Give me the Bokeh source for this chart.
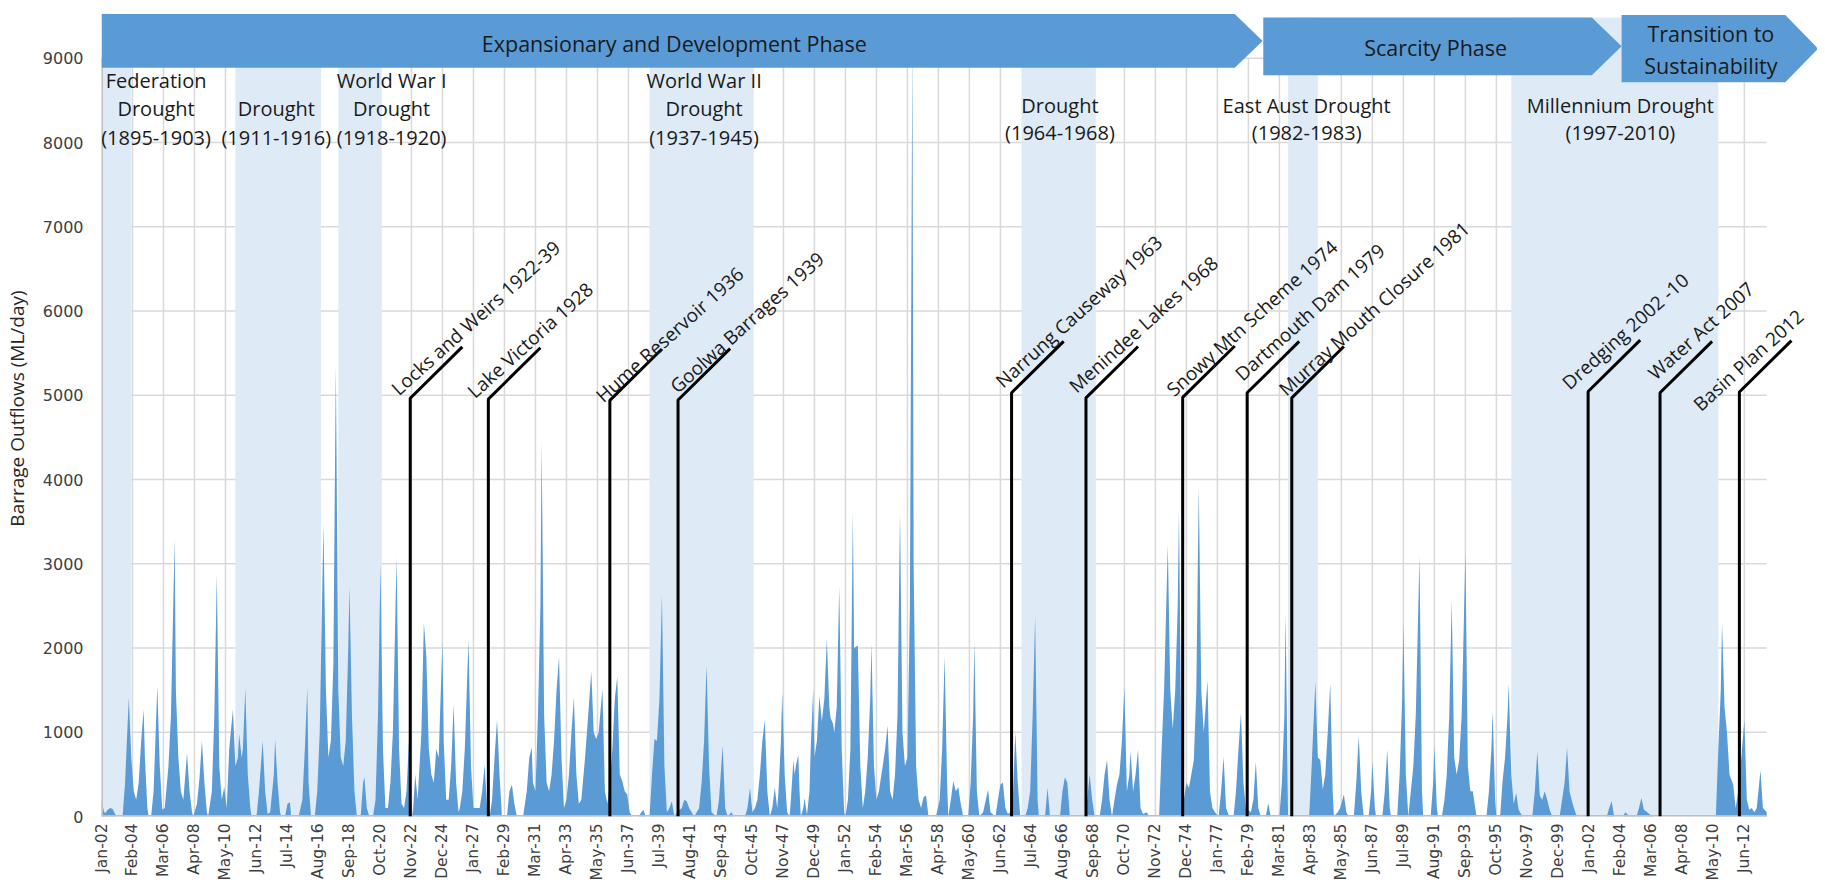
import math
from bokeh.plotting import figure
from bokeh.models import FixedTicker, Range1d, Label, PolyAnnotation, ColumnDataSource
from bokeh.embed import file_html
from bokeh.resources import INLINE

# ---------------- data (month index counted from Jan 1902) ----------------
tick_labels = ["Jan-02", "Feb-04", "Mar-06", "Apr-08", "May-10", "Jun-12", "Jul-14", "Aug-16",
               "Sep-18", "Oct-20", "Nov-22", "Dec-24", "Jan-27", "Feb-29", "Mar-31", "Apr-33",
               "May-35", "Jun-37", "Jul-39", "Aug-41", "Sep-43", "Oct-45", "Nov-47", "Dec-49",
               "Jan-52", "Feb-54", "Mar-56", "Apr-58", "May-60", "Jun-62", "Jul-64", "Aug-66",
               "Sep-68", "Oct-70", "Nov-72", "Dec-74", "Jan-77", "Feb-79", "Mar-81", "Apr-83",
               "May-85", "Jun-87", "Jul-89", "Aug-91", "Sep-93", "Oct-95", "Nov-97", "Dec-99",
               "Jan-02", "Feb-04", "Mar-06", "Apr-08", "May-10", "Jun-12"]
tick_step = 25
n_months = 1344
y_ticks = [0, 1000, 2000, 3000, 4000, 5000, 6000, 7000, 8000, 9000]

flow_month = [
    0, 2, 3, 5, 7, 9, 10, 12, 16, 17, 19, 22, 24, 26, 28, 30, 32, 34, 35, 37, 38, 40, 42, 45, 47, 49,
    51, 54, 56, 59, 60, 62, 64, 66, 69, 71, 73, 74, 77, 79, 81, 83, 85, 86, 89, 91, 93, 95, 97, 99,
    101, 103, 106, 108, 110, 111, 113, 114, 116, 118, 120, 121, 125, 127, 130, 132, 134, 136, 139, 140,
    142, 144, 145, 148, 150, 152, 153, 159, 162, 164, 166, 167, 169, 172, 174, 176, 179, 181, 183, 185,
    187, 189, 191, 193, 195, 197, 199, 200, 202, 204, 206, 209, 211, 212, 214, 216, 219, 221, 223, 225,
    227, 229, 231, 233, 235, 238, 240, 242, 244, 246, 248, 249, 251, 253, 255, 258, 260, 262, 264, 266,
    268, 270, 272, 273, 275, 276, 278, 280, 282, 284, 286, 288, 289, 291, 293, 296, 298, 300, 302, 305,
    307, 309, 311, 313, 315, 317, 319, 320, 321, 323, 327, 329, 331, 333, 335, 340, 343, 345, 347, 348,
    350, 352, 354, 355, 357, 359, 361, 363, 365, 367, 369, 371, 373, 375, 377, 379, 381, 383, 385, 387,
    390, 393, 395, 397, 399, 401, 404, 406, 408, 410, 412, 414, 416, 418, 420, 422, 424, 426, 428, 433,
    437, 439, 442, 444, 446, 448, 450, 452, 454, 456, 458, 460, 462, 464, 468, 470, 472, 474, 476, 478,
    482, 484, 486, 488, 490, 492, 496, 498, 501, 503, 505, 508, 510, 519, 521, 523, 525, 527, 529, 531,
    533, 535, 537, 539, 541, 543, 545, 546, 548, 549, 551, 553, 555, 556, 558, 559, 560, 562, 563, 564,
    566, 567, 569, 571, 572, 574, 575, 577, 579, 581, 583, 585, 587, 588, 590, 591, 593, 595, 597, 599,
    600, 602, 604, 606, 607, 610, 612, 614, 616, 618, 620, 621, 623, 625, 627, 629, 630, 632, 634, 636,
    638, 640, 642, 644, 646, 648, 650, 652, 654, 655, 657, 659, 661, 663, 665, 667, 670, 673, 676, 678,
    680, 682, 683, 685, 687, 689, 691, 693, 695, 699, 701, 703, 704, 706, 708, 711, 713, 715, 717, 721,
    723, 725, 727, 729, 731, 733, 735, 737, 739, 741, 745, 747, 749, 751, 753, 755, 756, 761, 763, 765,
    773, 775, 777, 779, 781, 793, 795, 797, 799, 801, 805, 807, 809, 811, 813, 815, 817, 819, 821, 823,
    825, 827, 829, 830, 832, 834, 836, 838, 840, 843, 845, 853, 855, 857, 860, 862, 864, 866, 868, 869,
    871, 873, 875, 877, 879, 881, 883, 885, 887, 889, 890, 892, 894, 896, 898, 901, 903, 905, 907, 909,
    913, 915, 917, 919, 921, 923, 927, 929, 931, 933, 935, 939, 941, 943, 950, 952, 954, 955, 957, 974,
    976, 979, 981, 983, 985, 987, 989, 991, 993, 994, 997, 999, 1002, 1004, 1006, 1010, 1012, 1014, 1016, 1018,
    1022, 1024, 1025, 1027, 1028, 1033, 1035, 1037, 1039, 1040, 1045, 1047, 1049, 1050, 1052, 1054, 1056, 1058, 1060, 1063,
    1065, 1066, 1072, 1074, 1075, 1077, 1078, 1081, 1083, 1085, 1087, 1089, 1091, 1093, 1095, 1097, 1098, 1100, 1102, 1104,
    1106, 1107, 1109, 1117, 1119, 1121, 1122, 1124, 1125, 1128, 1130, 1132, 1134, 1135, 1137, 1139, 1141, 1143, 1146, 1154,
    1156, 1158, 1160, 1162, 1164, 1166, 1168, 1170, 1176, 1178, 1180, 1182, 1184, 1186, 1188, 1190, 1214, 1216, 1218, 1220,
    1227, 1229, 1231, 1238, 1240, 1242, 1244, 1246, 1249, 1252, 1302, 1304, 1306, 1307, 1309, 1311, 1313, 1316, 1318, 1320,
    1322, 1325, 1327, 1329, 1331, 1333, 1335, 1338, 1340, 1343]

flow_ml = [
    200, 60, 40, 80, 100, 90, 60, 0, 0, 0, 400, 1410, 700, 300, 200, 400, 900, 1270, 700, 100, 0, 0, 300, 1550, 600, 80,
    100, 600, 1200, 3300, 1500, 700, 300, 200, 750, 300, 50, 0, 150, 450, 900, 400, 50, 0, 300, 1200, 2880, 600, 200, 350,
    100, 800, 1270, 600, 700, 980, 700, 800, 1520, 500, 100, 0, 0, 300, 900, 300, 30, 50, 500, 920,
    400, 50, 0, 0, 150, 170, 0, 0, 200, 800, 1540, 400, 0, 0, 300, 1000, 3470, 1500, 700, 900,
    1800, 5350, 1500, 700, 600, 900, 2000, 2730, 1200, 300, 0, 0, 400, 470, 100, 0, 0, 200, 1200, 3000,
    800, 100, 100, 400, 1000, 3080, 800, 150, 100, 300, 920, 300, 0, 500, 200, 1000, 2300, 1900, 800, 500,
    400, 800, 700, 1200, 2070, 900, 200, 200, 600, 1330, 400, 50, 100, 300, 800, 2110, 600, 100, 100, 100,
    300, 610, 100, 0, 200, 700, 1150, 850, 500, 0, 0, 300, 380, 150, 0, 0, 300, 700, 820, 400,
    300, 1200, 2500, 4440, 1200, 400, 300, 500, 900, 1500, 1900, 700, 100, 200, 500, 1000, 1410, 500, 150, 200,
    700, 1300, 1720, 1000, 920, 1000, 1520, 300, 150, 400, 800, 1400, 1660, 500, 420, 300, 260, 50, 0, 0,
    80, 0, 0, 500, 920, 900, 1400, 2630, 600, 50, 100, 180, 0, 50, 100, 200, 180, 100, 50, 0,
    100, 400, 900, 1800, 600, 50, 0, 200, 840, 100, 0, 50, 0, 0, 100, 340, 50, 100, 200, 500,
    900, 1145, 300, 0, 100, 340, 100, 300, 900, 1475, 500, 50, 0, 200, 670, 500, 600, 730, 300, 0,
    100, 220, 20, 300, 800, 1516, 700, 900, 1430, 1130, 1400, 2110, 1300, 1170, 1100, 1000, 1300, 2730, 800, 50,
    0, 200, 800, 3617, 2000, 2030, 600, 100, 300, 700, 1400, 2050, 600, 200, 300, 500, 590, 800, 1080, 300,
    200, 500, 1200, 3617, 1000, 600, 700, 2500, 9200, 3000, 600, 200, 100, 230, 250, 0, 0, 0, 200, 800,
    1900, 400, 0, 200, 420, 300, 350, 150, 0, 0, 400, 1200, 2070, 300, 0, 50, 180, 320, 50, 0,
    200, 380, 400, 100, 30, 50, 200, 1000, 400, 0, 0, 100, 300, 1200, 2380, 200, 0, 0, 340, 0,
    0, 300, 465, 400, 0, 0, 200, 500, 200, 0, 0, 200, 500, 670, 200, 0, 200, 380, 500, 900,
    1537, 300, 500, 775, 300, 500, 795, 100, 30, 50, 0, 0, 800, 1500, 3225, 1500, 1040, 1500, 2500, 3617,
    600, 200, 400, 340, 500, 670, 1500, 3925, 1500, 1000, 1200, 1620, 300, 100, 50, 0, 300, 710, 100, 20,
    0, 300, 800, 1230, 400, 100, 50, 200, 650, 100, 0, 0, 160, 0, 0, 400, 1200, 2420, 0, 0,
    590, 1600, 700, 670, 320, 500, 1000, 1580, 300, 0, 50, 100, 260, 50, 0, 0, 400, 960, 300, 0,
    0, 300, 650, 100, 0, 0, 300, 795, 100, 0, 0, 500, 1400, 2300, 500, 0, 300, 590, 1200, 3100,
    300, 0, 0, 400, 836, 100, 0, 0, 180, 500, 1200, 2570, 700, 500, 670, 1200, 1800, 3140, 600, 300,
    300, 200, 0, 0, 300, 800, 1250, 200, 0, 0, 420, 700, 1200, 1580, 500, 150, 280, 80, 0, 0,
    300, 775, 250, 200, 300, 200, 80, 0, 0, 200, 400, 816, 300, 180, 80, 0, 0, 100, 180, 0,
    0, 50, 20, 0, 100, 220, 80, 60, 20, 0, 0, 800, 1500, 2300, 1300, 1000, 500, 380, 100, 300,
    600, 1145, 200, 80, 100, 50, 100, 550, 100, 50]

drought_start = [0, 108, 191, 442, 742, 957, 1137]
drought_end = [24, 177, 226, 526, 802, 981, 1304]
drought_lines = [["Federation", "Drought", "(1895-1903)"],
                 ["Drought", "(1911-1916)"],
                 ["World War I", "Drought", "(1918-1920)"],
                 ["World War II", "Drought", "(1937-1945)"],
                 ["Drought", "(1964-1968)"],
                 ["East Aust Drought", "(1982-1983)"],
                 ["Millennium Drought", "(1997-2010)"]]
drought_label_month = [44, 141, 234, 486, 773, 972, 1225]

event_names = ["Locks and Weirs 1922-39", "Lake Victoria 1928", "Hume Reservoir 1936",
               "Goolwa Barrages 1939", "Narrung Causeway 1963", "Menindee Lakes 1968",
               "Snowy Mtn Scheme 1974", "Dartmouth Dam 1979", "Murray Mouth Closure 1981",
               "Dredging 2002 -10", "Water Act 2007", "Basin Plan 2012"]
event_month = [249, 312, 410, 465, 734, 794, 872, 924, 960, 1199, 1257, 1321]
event_top = [4965, 4955, 4940, 4945, 5030, 4970, 4975, 5030, 4970, 5045, 5030, 5040]

phase_names = ["Expansionary and Development Phase", "Scarcity Phase", "Transition to\nSustainability"]
phase_start = [0, 937, 1226]
phase_body_end = [914, 1202, 1358]
phase_tip = [936.5, 1226, 1384.5]

# ---------------- styling / layout ----------------
BLUE = "#5B9BD5"
SHADE = "#DEEBF7"
GRID = "#D9D9D9"
AXIS = "#BFBFBF"
TXT = "#1a1a1a"
FONT = "Open Sans"
last = n_months - 1

p = figure(width=1817, height=883, output_backend="svg", toolbar_location=None,
           x_range=Range1d(0, 1384.0), y_range=Range1d(0, 9687),
           min_border_left=95, min_border_right=0, min_border_top=0, min_border_bottom=65)
p.outline_line_color = None
p.background_fill_color = "white"
p.border_fill_color = "white"
p.xgrid.visible = False
p.ygrid.visible = False

ticks = [i * tick_step for i in range(len(tick_labels))]
p.xaxis.ticker = FixedTicker(ticks=ticks)
p.xaxis.major_label_overrides = {t: lab for t, lab in zip(ticks, tick_labels)}
p.xaxis.major_label_orientation = math.pi / 2
p.xaxis.major_label_text_font = "DejaVu Sans"
p.xaxis.major_label_text_font_size = "15.5px"
p.xaxis.major_label_text_color = "#404040"
p.xaxis.major_label_standoff = 7
p.yaxis.ticker = FixedTicker(ticks=y_ticks)
p.yaxis.major_label_text_font = "DejaVu Sans"
p.yaxis.major_label_text_font_size = "16px"
p.yaxis.major_label_text_color = "#404040"
p.yaxis.major_label_standoff = 18
p.yaxis.axis_label = "Barrage Outflows (ML/day)"
p.yaxis.axis_label_text_font = FONT
p.yaxis.axis_label_text_font_size = "19px"
p.yaxis.axis_label_text_font_style = "normal"
p.yaxis.axis_label_text_color = "#262626"
p.yaxis.axis_label_standoff = 10
for ax in (p.xaxis, p.yaxis):
    ax.axis_line_color = None
    ax.major_tick_line_color = None
    ax.minor_tick_line_color = None
    ax.major_tick_out = 0
    ax.major_tick_in = 0

# gridlines limited to the chart's plot area
p.segment(x0=ticks[1:], y0=0, x1=ticks[1:], y1=y_ticks[-1], line_color=GRID, line_width=1.5)
p.segment(x0=0, y0=y_ticks[1:], x1=last, y1=y_ticks[1:], line_color=GRID, line_width=1.5)

# drought shading (above grid, below area)
p.quad(left=drought_start, right=drought_end, bottom=0, top=9486,
       fill_color=SHADE, line_color=None)

# outflow area
src = ColumnDataSource(dict(x=flow_month, y=flow_ml))
p.varea(x="x", y1=0, y2="y", source=src, fill_color=BLUE)

# axis lines
p.segment(x0=[0, 0], y0=[0, 0], x1=[last, 0], y1=[0, y_ticks[-1]], line_color=AXIS, line_width=3)

# event leader lines
dx, dy = 42, 610
xs = [[m, m, m + dx] for m in event_month]
ys = [[0, t, t + dy] for t in event_top]
p.multi_line(xs=xs, ys=ys, line_color="black", line_width=3)

off_x = [-16, -18, -11, -5, -13, -14, -13, -9, -10, -23, -9, -43]
off_y = [7, 5, 2, 11, 9, 9, 5, 16, 6, 6, 17, -15]
for name, m, t, ox, oy in zip(event_names, event_month, event_top, off_x, off_y):
    p.add_layout(Label(x=m, y=t, x_offset=ox, y_offset=oy, text=name, angle=42,
                       angle_units="deg", text_font=FONT, text_font_size="19px",
                       text_align="left", text_baseline="alphabetic", text_color=TXT))

# drought labels
row3 = [8740, 8408, 8064]
row2 = {1: [8408, 8064], 4: [8444, 8118], 5: [8444, 8118], 6: [8444, 8118]}
for k, (lines, m) in enumerate(zip(drought_lines, drought_label_month)):
    ypos = row3 if len(lines) == 3 else row2[k]
    for line, yv in zip(lines, ypos):
        p.add_layout(Label(x=m, y=yv, text=line, text_font=FONT, text_font_size="20px",
                           text_align="center", text_baseline="middle", text_color=TXT))

# phase banners (arrows)
band_top = [9527, 9486, 9516]
band_bot = [8888, 8799, 8716]
for s, e, tip, t, b in zip(phase_start, phase_body_end, phase_tip, band_top, band_bot):
    mid = (t + b) / 2
    p.add_layout(PolyAnnotation(xs=[s, e, tip, e, s], ys=[t, t, mid, b, b],
                                fill_color=BLUE, fill_alpha=1.0, line_color=None))

p.add_layout(Label(x=462, y=9173, text=phase_names[0], text_font=FONT, text_font_size="21.5px",
                   text_align="center", text_baseline="middle", text_color=TXT))
p.add_layout(Label(x=1076, y=9134, text=phase_names[1], text_font=FONT, text_font_size="21.5px",
                   text_align="center", text_baseline="middle", text_color=TXT))
for line, yv in zip(phase_names[2].split("\n"), [9296, 8918]):
    p.add_layout(Label(x=1298, y=yv, text=line, text_font=FONT, text_font_size="21.5px",
                       text_align="center", text_baseline="middle", text_color=TXT))

open("out.html", "w").write(file_html(p, INLINE))
